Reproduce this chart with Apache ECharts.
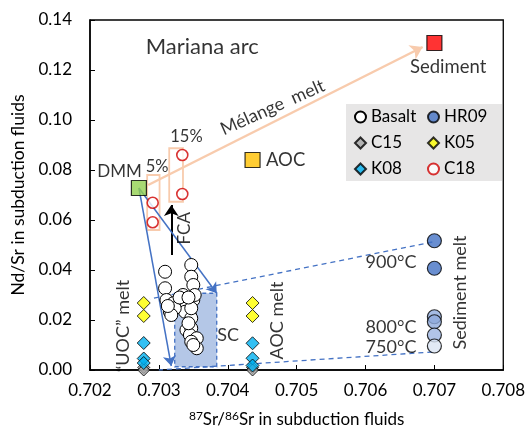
<!DOCTYPE html>
<html><head><meta charset="utf-8">
<script src="https://cdn.jsdelivr.net/npm/echarts@6/dist/echarts.min.js"></script>
<style>html,body{margin:0;padding:0;background:#fff}#c{width:528px;height:435px}</style>
</head><body><div id="c"></div>
<script>
// ---- data ----
const xMin = 0.702, xMax = 0.708, xStep = 0.001;
const yMin = 0, yMax = 0.14, yStep = 0.02;

const basalt = [
  [0.70347,0.0420],[0.70309,0.0393],[0.70347,0.0373],[0.70309,0.0327],[0.70350,0.0340],
  [0.70335,0.0300],[0.70350,0.0280],[0.70311,0.0280],[0.70321,0.0267],[0.70316,0.0233],
  [0.70340,0.0267],[0.70345,0.0220],[0.70338,0.0233],[0.70347,0.0207],[0.70340,0.0160],
  [0.70347,0.0167],[0.70345,0.0140],[0.70355,0.0127],[0.70347,0.0113],[0.70355,0.0087],
  [0.70323,0.0247],[0.70318,0.0220],[0.70347,0.0247],[0.70343,0.0187],[0.70350,0.0100],
  [0.70330,0.0290],[0.70313,0.0256],[0.70352,0.0300],[0.70343,0.0290]
];
const hr09 = [[0.707,0.0517],[0.707,0.0407],[0.707,0.0213],[0.707,0.0193],[0.707,0.0140],[0.707,0.0096]];
const hr09Colors = ['#4472C4','#4472C4','#8FAADC','#8FAADC','#9DB5E2','#DAE3F3'];
const c15 = [[0.70278,0.0010],[0.70278,0.0000],[0.70436,0.0010],[0.70436,0.0000]];
const k05 = [[0.70278,0.0268],[0.70278,0.0216],[0.70436,0.0268],[0.70436,0.0216]];
const k08 = [[0.70278,0.0108],[0.70278,0.0046],[0.70278,0.0028],[0.70436,0.0107],[0.70436,0.0047],[0.70436,0.0018]];
const c18 = [[0.70291,0.0669],[0.70291,0.0591],[0.70334,0.0860],[0.70334,0.0704]];
const dmm = [0.70271,0.0728];
const sediment = [0.707,0.1308];
const aoc = [0.70436,0.0840];

// arrows / lines [from, to]
const melangeArrow = [[0.702845,0.0740],[0.70683,0.1292]];
const fcaArrow = [[0.70318,0.0460],[0.70318,0.0660]];
const dmmArrows = [[dmm,[0.70384,0.0307]],[dmm,[0.70318,0.0016]]];
const meltLines = [[[0.70697,0.0512],[0.70287,0.0284]],[[0.70697,0.0072],[0.70300,0.0000]]];

// boxes [x1,y1,x2,y2]
const scBox = [0.70323,0.0013,0.70384,0.0307];
const pctBoxes = [[0.70283,0.0560,0.70301,0.0780],[0.70315,0.0673,0.70335,0.0887]];

// annotations [x,y,text,fontSize,rotate]
const notes = [
  [0.70363,0.1293,'Mariana arc',22,0],
  [0.70720,0.1213,'Sediment',18.5,0],
  [0.70484,0.0840,'AOC',18.5,0],
  [0.70243,0.0793,'DMM',17,0],
  [0.702975,0.0812,'5%',16.5,0],
  [0.70340,0.0933,'15%',16.5,0],
  [0.703377,0.0567,'FCA',17,90],
  [0.70465,0.1050,'Mélange  melt',18,24],
  [0.70637,0.0433,'900°C',18,0],
  [0.70637,0.0173,'800°C',18,0],
  [0.70637,0.0091,'750°C',18,0],
  [0.70738,0.0310,'Sediment melt',18,90],
  [0.704004,0.0140,'SC',18,0],
  [0.704714,0.0198,'AOC melt',18,90],
  [0.702483,0.0176,'“UOC” melt',18,90]
];

const FONT = 'Lato, "Open Sans", sans-serif';
const chart = echarts.init(document.getElementById('c'), null, {renderer:'canvas'});

const lineSeries = (name, pairs, style, arrow, z) => ({
  name, type:'lines', coordinateSystem:'cartesian2d', z, silent:true,
  symbol: arrow ? ['none','arrow'] : ['none','none'], symbolSize: arrow || 0,
  lineStyle: style,
  data: pairs.map(p => ({coords:[p[0],p[1]]}))
});

const option = {
  animation:false,
  textStyle:{fontFamily:FONT},
  grid:{left:90,right:24,top:20,bottom:65,show:true,borderColor:'#000',borderWidth:1.3,backgroundColor:'transparent'},
  xAxis:{type:'value',min:xMin,max:xMax,interval:xStep,
    axisLine:{lineStyle:{color:'#000',width:1.5}},
    axisTick:{inside:true,length:5,lineStyle:{color:'#000'}},
    splitLine:{show:false},
    axisLabel:{color:'#000',fontSize:17,margin:12,fontFamily:FONT,formatter:v=>v.toFixed(3)},
    name:'{sup|87}Sr/{sup|86}Sr in subduction fluids',nameLocation:'middle',nameGap:40,
    nameTextStyle:{color:'#000',fontSize:17,fontFamily:FONT,rich:{sup:{fontSize:12,verticalAlign:'top',padding:[0,0,7,0],fontFamily:FONT,color:'#000'}}}
  },
  yAxis:{type:'value',min:yMin,max:yMax,interval:yStep,
    axisLine:{lineStyle:{color:'#000',width:1.5}},
    axisTick:{inside:true,length:5,lineStyle:{color:'#000'}},
    splitLine:{show:false},
    axisLabel:{color:'#000',fontSize:17,margin:18,fontFamily:FONT,formatter:v=>v.toFixed(2)},
    name:'Nd/Sr in subduction fluids',nameLocation:'middle',nameGap:62,
    nameTextStyle:{color:'#000',fontSize:17.5,fontFamily:FONT}
  },
  legend:[
    {orient:'vertical',left:354,top:107,padding:[0,0,0,0],itemWidth:11,itemHeight:11,itemGap:6,
     data:['Basalt','C15','K08'],textStyle:{fontSize:17,color:'#000',fontFamily:FONT,lineHeight:20},selectedMode:false},
    {orient:'vertical',left:427,top:107,padding:[0,0,0,0],itemWidth:11,itemHeight:11,itemGap:6,
     data:['HR09','K05','C18'],textStyle:{fontSize:17,color:'#000',fontFamily:FONT,lineHeight:20},selectedMode:false}
  ],
  graphic:[{type:'rect',left:346,top:104,shape:{width:156,height:77},style:{fill:'#E7E6E6'},z:-1,silent:true}],
  series:[
    {name:'areas',type:'scatter',data:[],z:1,silent:true,
     markArea:{silent:true,data:[
       [{coord:[scBox[0],scBox[1]],itemStyle:{color:'#B4C7E7',borderColor:'#4472C4',borderWidth:1.3,borderType:[4,3]}},{coord:[scBox[2],scBox[3]]}],
       ...pctBoxes.map(b=>[{coord:[b[0],b[1]],itemStyle:{color:'rgba(0,0,0,0)',borderColor:'#F8CBAD',borderWidth:1.8}},{coord:[b[2],b[3]]}])
     ]}},
    lineSeries('melange',[melangeArrow],{color:'#F8CBAD',width:2.5,opacity:1},12,2),
    lineSeries('fca',[fcaArrow],{color:'#000',width:2,opacity:1},11,2),
    lineSeries('dmmArrows',dmmArrows,{color:'#4472C4',width:1.5,opacity:1},10,2),
    lineSeries('meltLines',meltLines,{color:'#4472C4',width:1.3,type:[5,4],opacity:1},0,2),
    {name:'Basalt',type:'scatter',data:basalt,symbol:'circle',symbolSize:13,z:4,
     itemStyle:{color:'#fff',borderColor:'#000',borderWidth:1,opacity:1}},
    {name:'C15',type:'scatter',data:c15,symbol:'diamond',symbolSize:12,z:4,
     itemStyle:{color:'#A6A6A6',borderColor:'#000',borderWidth:1}},
    {name:'K05',type:'scatter',data:k05,symbol:'diamond',symbolSize:13,z:4,
     itemStyle:{color:'#FFFF00',borderColor:'#000',borderWidth:1}},
    {name:'K08',type:'scatter',data:k08,symbol:'diamond',symbolSize:13,z:4,
     itemStyle:{color:'#00B0F0',borderColor:'#000',borderWidth:1}},
    {name:'C18',type:'scatter',data:c18,symbol:'circle',symbolSize:11,z:4,
     itemStyle:{color:'#fff',borderColor:'#D00000',borderWidth:1.6}},
    {name:'HR09',type:'scatter',symbol:'circle',symbolSize:14,z:4,
     data:hr09.map((p,i)=>({value:p,itemStyle:{color:hr09Colors[i]}})),
     itemStyle:{color:'#4472C4',borderColor:'#000',borderWidth:1.2}},
    {name:'DMM',type:'scatter',data:[dmm],symbol:'rect',symbolSize:15,z:5,
     itemStyle:{color:'#92D050',borderColor:'#000',borderWidth:1.2}},
    {name:'Sediment',type:'scatter',data:[sediment],symbol:'rect',symbolSize:15,z:5,
     itemStyle:{color:'#FF0000',borderColor:'#000',borderWidth:1.2}},
    {name:'AOC',type:'scatter',data:[aoc],symbol:'rect',symbolSize:15,z:5,
     itemStyle:{color:'#FFC000',borderColor:'#000',borderWidth:1.2}},
    {name:'notes',type:'scatter',symbolSize:0,z:6,silent:true,
     data:notes.map(n=>({value:[n[0],n[1]],label:{show:true,position:'inside',formatter:n[2],fontSize:n[3],rotate:n[4],color:'#000',fontFamily:FONT}}))}
  ]
};
chart.setOption(option);
</script></body></html>
